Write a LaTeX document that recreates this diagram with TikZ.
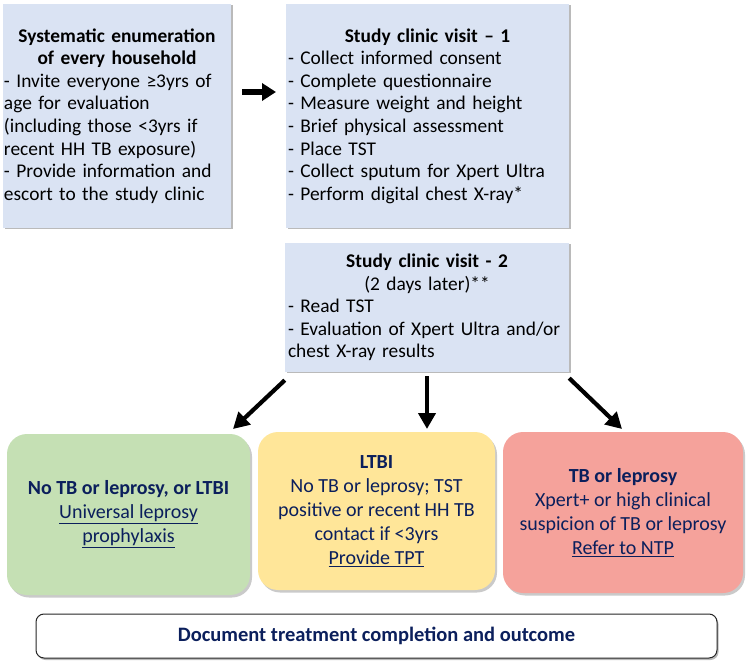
\documentclass[tikz,border=0pt]{standalone}
\usepackage{fontspec}
\setmainfont{Carlito}
\usetikzlibrary{shadows,arrows.meta}
\definecolor{bluebox}{HTML}{DAE3F3}
\definecolor{greenbox}{HTML}{C5E0B4}
\definecolor{yellowbox}{HTML}{FFE699}
\definecolor{redbox}{HTML}{F5A29B}
\definecolor{navy}{HTML}{0B1F5C}
\newcommand{\ul}[1]{\underline{#1}}
\begin{document}
\begin{tikzpicture}[x=1pt,y=-1pt,
  every node/.style={font=\fontsize{19.4}{22.6}\selectfont, inner sep=2pt},
  bluebox/.style={fill=bluebox, draw=none, rectangle,
    drop shadow={shadow xshift=1.5pt, shadow yshift=-1.5pt, opacity=0.45, fill=black!60}},
  outcome/.style={rounded corners=20pt, draw=none, align=center, text=navy,
    font=\fontsize{20}{24}\selectfont,
    drop shadow={shadow xshift=2pt, shadow yshift=-2.5pt, opacity=0.35, fill=black!60}},
  bigarrow/.style={line width=4.2pt, -{Triangle[length=16pt,width=17pt]}}
]
\useasboundingbox (0,0) rectangle (750,668);

\node[bluebox, minimum width=228pt, minimum height=224pt, text width=226pt, inner sep=1pt] (enum) at (117,116)
 {{\centering\bfseries Systematic enumeration\\ of every household\par}
  \raggedright - Invite everyone ≥3yrs of\\ age for evaluation\\ (including those <3yrs if\\ recent HH TB exposure)\\ - Provide information and\\ escort to the study clinic\par};

\node[bluebox, minimum width=283pt, minimum height=224pt, text width=279pt] (v1) at (427.5,116)
 {{\centering\bfseries Study clinic visit – 1\par}
  \raggedright - Collect informed consent\\ - Complete questionnaire\\ - Measure weight and height\\ - Brief physical assessment\\ - Place TST\\ - Collect sputum for Xpert Ultra\\ - Perform digital chest X-ray*\par};

\node[bluebox, minimum width=284pt, minimum height=129pt, text width=278pt] (v2) at (427,307.5)
 {{\centering\bfseries Study clinic visit - 2\\ \mdseries (2 days later)**\par}
  \raggedright - Read TST\\ - Evaluation of Xpert Ultra and/or\\ chest X-ray results\par};

\node[outcome, fill=greenbox, minimum width=243pt, minimum height=161pt] (none) at (128.5,514.5)
 {\textbf{No TB or leprosy, or LTBI}\\ \ul{Universal leprosy}\\ \ul{prophylaxis}};

\node[outcome, fill=yellowbox, minimum width=237pt, minimum height=158pt] (ltbi) at (376.5,511)
 {\textbf{LTBI}\\ No TB or leprosy; TST\\ positive or recent HH TB\\ contact if <3yrs\\ \ul{Provide TPT}};

\node[outcome, fill=redbox, minimum width=240pt, minimum height=161pt] (tb) at (623,512.5)
 {\textbf{TB or leprosy}\\ Xpert+ or high clinical\\ suspicion of TB or leprosy\\ \ul{Refer to NTP}};

\node[rounded corners=8pt, draw=black!85, line width=1pt, fill=white, text=navy,
  font=\fontsize{20.5}{24}\selectfont,
  minimum width=681pt, minimum height=44pt,
  drop shadow={shadow xshift=1.5pt, shadow yshift=-2pt, opacity=0.45, fill=black!60}] (doc) at (376.5,636)
 {\textbf{Document treatment completion and outcome}};

\coordinate (a1s) at (242,92);
\coordinate (a1e) at (276,92);
\draw[line width=5.5pt, -{Triangle[length=14pt,width=17pt]}] (a1s) -- (a1e);

\draw[bigarrow] (v2.south west) ++(0,8) -- (233,429);
\draw[bigarrow] (v2.south) ++(0,4) -- (427,429);
\draw[bigarrow] (v2.south east) ++(0,6) -- (622,429);
\end{tikzpicture}
\end{document}
